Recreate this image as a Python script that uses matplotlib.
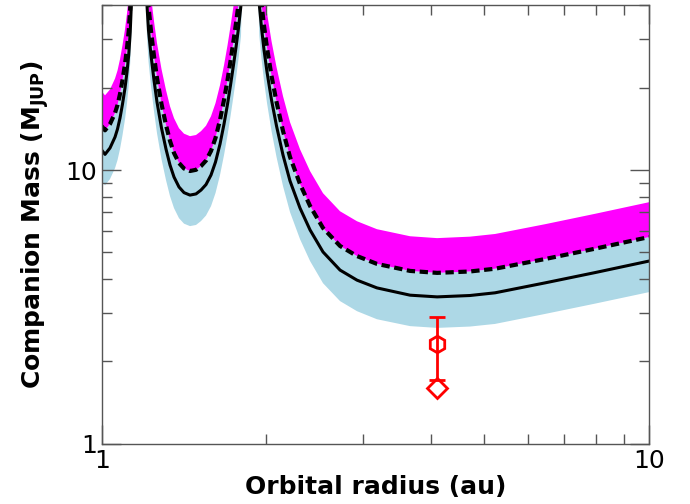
import numpy as np
import matplotlib
matplotlib.use("Agg")
import matplotlib.pyplot as plt
from matplotlib.ticker import NullFormatter

# orbital radius samples (au)
radius = [1.000, 1.014, 1.0355, 1.0576, 1.0687, 1.080, 1.0914, 1.103, 1.1123, 1.1203,
          1.1274, 1.1327, 1.1408, 1.1709, 1.1997, 1.2098, 1.2175, 1.2304, 1.246, 1.2619,
          1.286, 1.3106, 1.3329, 1.3555, 1.3843, 1.4138, 1.4498, 1.4869, 1.5185, 1.5508,
          1.5838, 1.6141, 1.645, 1.6729, 1.6978, 1.7194, 1.7398, 1.7597, 1.778, 1.7968,
          1.812, 1.8665, 1.9223, 1.941, 1.959, 1.9797, 2.0048, 2.0431, 2.0866, 2.1444,
          2.2084, 2.3033, 2.4028, 2.5372, 2.7256, 2.9273, 3.1838, 3.6592, 4.1004, 4.7078,
          5.2322, 6.4562, 7.9676, 10.0]

# median mass limit (solid line)
mass_mid = [11.83, 11.41, 12.04, 13.20, 14.12, 15.49, 17.42, 19.94, 22.81, 26.31,
            31.93, 40.08, 80, 1000, 80, 40.08, 32.47, 26.31, 21.33, 17.72,
            14.24, 11.93, 10.43, 9.43, 8.67, 8.27, 8.10, 8.18, 8.45, 8.85,
            9.59, 10.70, 12.45, 14.73, 17.42, 20.44, 23.99, 28.14, 33.02, 40.08,
            80, 1000, 80, 40.08, 33.02, 27.44, 22.81, 18.02, 14.48, 11.34,
            9.12, 7.26, 6.04, 5.02, 4.31, 3.96, 3.71, 3.49, 3.44, 3.48,
            3.56, 3.87, 4.22, 4.65]

# dashed line
mass_dash = [14.48, 13.97, 14.73, 16.16, 17.28, 18.96, 21.32, 24.41, 27.92, 32.20,
             39.08, 49.06, 97.9, 1000, 97.9, 49.06, 39.74, 32.20, 26.11, 21.69,
             17.43, 14.60, 12.77, 11.54, 10.61, 10.13, 9.92, 10.02, 10.34, 10.83,
             11.74, 13.10, 15.24, 18.03, 21.32, 25.02, 29.36, 34.44, 40.42, 49.06,
             97.9, 1000, 97.9, 49.06, 40.42, 33.59, 27.92, 22.06, 17.72, 13.88,
             11.16, 8.89, 7.39, 6.14, 5.28, 4.85, 4.54, 4.28, 4.21, 4.26,
             4.36, 4.73, 5.16, 5.69]

# upper edge of magenta band
mass_high = [19.40, 18.75, 19.70, 21.60, 23.10, 25.40, 28.60, 32.70, 37.40, 43.20,
             52.40, 65.80, 131, 1000, 131, 65.80, 53.30, 43.20, 35.00, 29.10,
             23.40, 19.60, 17.10, 15.48, 14.22, 13.58, 13.30, 13.43, 13.87, 14.52,
             15.73, 17.56, 20.43, 24.16, 28.58, 33.54, 39.36, 46.17, 54.18, 65.80,
             131, 1000, 131, 65.80, 54.18, 45.02, 37.43, 29.57, 23.76, 18.61,
             14.96, 11.91, 9.91, 8.23, 7.07, 6.50, 6.08, 5.73, 5.64, 5.71,
             5.84, 6.34, 6.92, 7.63]

# lower edge of light blue band
mass_low = [9.11, 8.79, 9.27, 10.16, 10.87, 11.93, 13.41, 15.35, 17.56, 20.26,
            24.59, 30.86, 61.6, 1000, 61.6, 30.86, 25.00, 20.26, 16.42, 13.64,
            10.96, 9.19, 8.03, 7.26, 6.67, 6.37, 6.24, 6.30, 6.51, 6.82,
            7.38, 8.24, 9.59, 11.34, 13.41, 15.74, 18.47, 21.67, 25.43, 30.86,
            61.6, 1000, 61.6, 30.86, 25.43, 21.13, 17.56, 13.88, 11.15, 8.73,
            7.02, 5.59, 4.65, 3.86, 3.32, 3.05, 2.85, 2.69, 2.65, 2.68,
            2.74, 2.98, 3.25, 3.58]

# companion point
comp_r = 4.10
comp_m = 2.31
comp_err_lo = 0.60
comp_err_hi = 0.59
comp2_m = 1.594

fig = plt.figure(figsize=(6.9, 5.04), dpi=100)
ax = fig.add_axes([0.1474, 0.1196, 0.7932, 0.8699])

ax.fill_between(radius, mass_low, mass_dash, color="lightblue", lw=0)
ax.fill_between(radius, mass_dash, mass_high, color="magenta", lw=0)
ax.plot(radius, mass_mid, color="black", lw=2.2)
ax.plot(radius, mass_dash, color="black", lw=3, dashes=(2.0, 1.1))

ax.errorbar([comp_r], [comp_m], yerr=[[comp_err_lo], [comp_err_hi]], fmt="h",
            color="red", mfc="none", mec="red", ms=12, mew=2, lw=2,
            capsize=6, capthick=2)
ax.plot([comp_r], [comp2_m], "D", color="red", mfc="none", mew=2, ms=10)

ax.set_xscale("log")
ax.set_yscale("log")
ax.set_xlim(1, 10)
ax.set_ylim(1, 40)
ax.set_xticks([1, 10])
ax.set_xticklabels(["1", "10"])
ax.set_yticks([1, 10])
ax.set_yticklabels(["1", "10"])
ax.xaxis.set_minor_formatter(NullFormatter())
ax.yaxis.set_minor_formatter(NullFormatter())

for s in ax.spines.values():
    s.set_color("#555555")
    s.set_linewidth(1.0)
ax.tick_params(which="both", direction="in", top=True, right=True,
               colors="#555555", labelcolor="black", labelsize=18)
ax.tick_params(which="major", length=14, width=1)
ax.tick_params(which="minor", length=7, width=1)
ax.tick_params(axis="x", pad=4)

ax.set_xlabel("Orbital radius (au)", fontsize=18, fontweight="bold", labelpad=1)
ax.set_ylabel(r"Companion Mass (M$_\mathbf{JUP}$)", fontsize=18,
              fontweight="bold", labelpad=10)

fig.savefig("out.png", dpi=100)
